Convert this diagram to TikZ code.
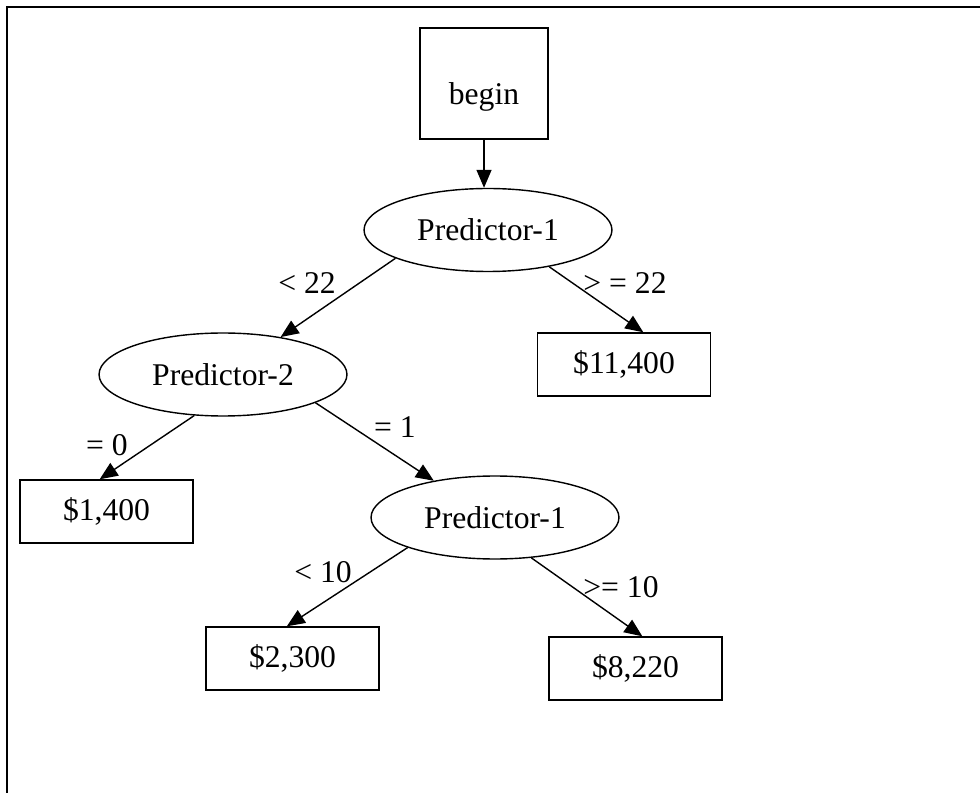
\documentclass[tikz,border=0pt]{standalone}
\usepackage{fontspec}
\setmainfont{Liberation Serif}
\usetikzlibrary{arrows.meta,shapes.geometric}
\begin{document}
\begin{tikzpicture}[x=0.02cm,y=-0.02cm,
  font=\fontsize{18}{21}\selectfont,
  box/.style={draw,line width=0.8pt,inner sep=0pt,minimum width=3.46cm,minimum height=1.26cm},
  pred/.style={draw,ellipse,line width=0.8pt,inner sep=0pt,minimum width=4.96cm,minimum height=1.66cm},
  arr/.style={line width=0.8pt,-{Triangle[length=0.36cm,width=0.3cm]}}]
\useasboundingbox (0,0) rectangle (980,793);
\draw[line width=1.3pt] (7,793) -- (7,7) -- (980,7);
\node[box,minimum width=2.56cm,minimum height=2.22cm,text height=0.98cm] (root) at (484,83.5) {begin};
\node[pred] (p1) at (488,230) {Predictor-1};
\node[pred] (p2) at (223,374.5) {Predictor-2};
\node[pred] (p3) at (495,517.5) {Predictor-1};
\node[box] (v1) at (624,364.5) {\$11,400};
\node[box] (v2) at (106.5,511.5) {\$1,400};
\node[box] (v3) at (292.5,658.5) {\$2,300};
\node[box] (v4) at (635.5,668.5) {\$8,220};
\node (l1) at (307,283) {< 22};
\node (l2) at (625,283) {> = 22};
\node (l3) at (107,445) {= 0};
\node (l4) at (395,427) {= 1};
\node (l5) at (323,572) {< 10};
\node (l6) at (621,587) {>= 10};
\draw[arr] (root.south) -- (root.south |- p1.north);
\draw[arr] (p1.197) -- (p2.33);
\draw[arr] (p1.329) -- (v1.59);
\draw[arr] (p2.235) -- (v2.102);
\draw[arr] (p2.343) -- (p3.149);
\draw[arr] (p3.199) -- (v3.100);
\draw[arr] (p3.312) -- (v4.78);
\end{tikzpicture}
\end{document}
